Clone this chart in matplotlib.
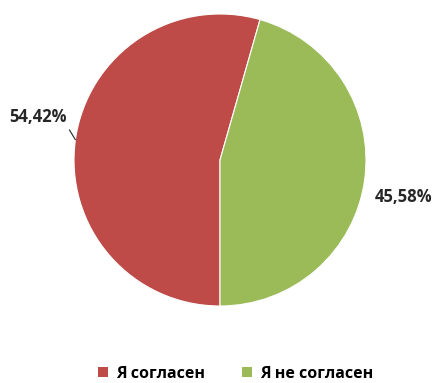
import numpy as np
import matplotlib.pyplot as plt
from matplotlib.patches import Patch

plt.rcParams['font.family'] = ['Open Sans', 'DejaVu Sans']

categories = ['Я согласен', 'Я не согласен']
shares = [54.42, 45.58]
colors = ['#BE4B48', '#9BBB59']

fig = plt.figure(figsize=(4.36, 3.83), dpi=100)
ax = fig.add_axes([74 / 436, 77 / 383, 292 / 436, 292 / 383])

wedges, _ = ax.pie(shares, colors=colors, startangle=270, counterclock=False,
                   radius=1.0, wedgeprops=dict(linewidth=0.8, edgecolor='white'))
ax.set_xlim(-1, 1)
ax.set_ylim(-1, 1)
ax.set_aspect('equal')
ax.axis('off')

def fmt(v):
    return f'{v:.2f}'.replace('.', ',') + '%'

# label placement (data units) for each wedge
label_pos = [(-1.048, 0.295, 'right'), (1.062, -0.25, 'left')]
for w, v, (lx, ly, ha) in zip(wedges, shares, label_pos):
    mid = np.deg2rad((w.theta1 + w.theta2) / 2)
    edge = (np.cos(mid), np.sin(mid))
    arrow = None
    if ha == 'right':
        arrow = dict(arrowstyle='-', color='#262626', lw=0.8,
                     shrinkA=1, shrinkB=0, relpos=(1.0, 0.0))
    ax.annotate(fmt(v), xy=edge, xytext=(lx, ly), ha=ha, va='center',
                fontsize=12, fontweight='bold', color='#262626',
                annotation_clip=False, arrowprops=arrow)

handles = [Patch(facecolor=c, edgecolor='none') for c in colors]
fig.legend(handles, categories, loc='center', bbox_to_anchor=(0.541, 1 - 374 / 383),
           ncol=2, frameon=False, handlelength=0.6, handleheight=0.6,
           handletextpad=0.55, columnspacing=2.3,
           prop=dict(weight='bold', size=11.5))

fig.savefig('out.png', dpi=100)
